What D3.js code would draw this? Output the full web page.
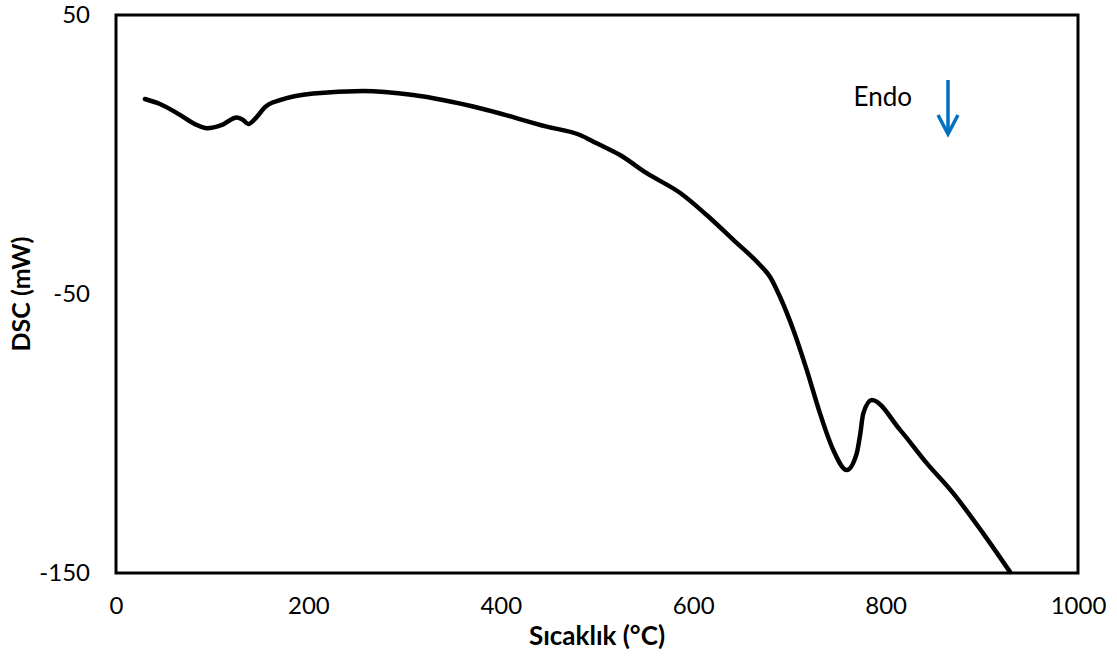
<!DOCTYPE html>
<html>
<head>
<meta charset="utf-8">
<script src="https://cdn.jsdelivr.net/npm/d3@7"></script>
<style>
  body { margin: 0; background: #fff; }
  text { font-family: Lato, "Noto Sans", sans-serif; fill: #000; }
</style>
</head>
<body>
<div id="chart"></div>
<script>
// readings of the DSC curve
var temperature = [30.1, 45.7, 66.5, 82.1, 94.6, 110.2, 125.5, 132, 137.5, 145.5, 154.9, 170.5, 205.1, 257.1, 309.0,
    378.4, 447.7, 482.3, 499.7, 523.9, 551.7, 586.9, 614.0, 641.7, 669.4, 679.8, 690.2, 704.1, 718.0, 731.8,
    745.6, 759.6, 770.0, 773.5, 776.8, 785.6, 815.0, 842.7, 870.0, 901.2, 929.3];
var dsc = [19.9, 18.1, 14.2, 10.9, 9.4, 10.6, 13.3, 12.4, 10.9, 13.1, 17.0, 19.5, 21.9, 22.8, 21.3,
    16.6, 10.0, 7.0, 4.0, -0.2, -6.7, -13.9, -21.7, -30.6, -39.6, -43.8, -51.0, -62.9, -77.2, -92.8,
    -105.9, -113.1, -107.1, -100.5, -92.8, -88.0, -98.7, -110.6, -121.3, -135.7, -149.6];
var xTicks = [0, 200, 400, 600, 800, 1000];
var yTicks = [50, -50, -150];

var width = 1117, height = 657;
var margin = {left: 116, top: 15, right: 39, bottom: 84};
var tickFont = 24;

var svg = d3.select("#chart").append("svg")
    .attr("width", width)
    .attr("height", height);

var x = d3.scaleLinear().domain([0, 1000]).range([margin.left, width - margin.right]);
var y = d3.scaleLinear().domain([-150, 50]).range([height - margin.bottom, margin.top]);

//axes without tick marks, labels only
svg.append("g")
    .attr("transform", "translate(0," + (height - margin.bottom) + ")")
    .call(d3.axisBottom(x).tickValues(xTicks).tickSize(0).tickPadding(24).tickFormat(d => String(d)))
    .call(g => g.select(".domain").remove())
    .selectAll("text")
    .attr("font-size", tickFont)
    .style("font-family", "Lato, 'Noto Sans', sans-serif");

svg.append("g")
    .attr("transform", "translate(" + margin.left + ",0)")
    .call(d3.axisLeft(y).tickValues(yTicks).tickSize(0).tickPadding(26).tickFormat(d => String(d)))
    .call(g => g.select(".domain").remove())
    .selectAll("text")
    .attr("font-size", tickFont)
    .style("font-family", "Lato, 'Noto Sans', sans-serif");

//frame of the plot area
svg.append("rect")
    .attr("x", x(0))
    .attr("y", y(50))
    .attr("width", x(1000) - x(0))
    .attr("height", y(-150) - y(50))
    .attr("fill", "none")
    .attr("stroke", "#000")
    .attr("stroke-width", 3);

var line = d3.line()
    .x(function (d, i) { return x(temperature[i]); })
    .y(function (d, i) { return y(dsc[i]); })
    .curve(d3.curveMonotoneX);

svg.append("path")
    .attr("d", line(dsc))
    .attr("fill", "none")
    .attr("stroke", "#000")
    .attr("stroke-width", 4.5)
    .attr("stroke-linecap", "round")
    .attr("stroke-linejoin", "round");

//axis titles
svg.append("text")
    .attr("x", x(500))
    .attr("y", 645)
    .attr("text-anchor", "middle")
    .attr("font-size", 26)
    .attr("font-weight", "bold")
    .text("Sıcaklık (°C)");

svg.append("text")
    .attr("transform", "translate(30," + y(-50) + ") rotate(-90)")
    .attr("text-anchor", "middle")
    .attr("font-size", 25)
    .attr("font-weight", "bold")
    .text("DSC (mW)");

//Endo annotation
svg.append("text")
    .attr("x", 912)
    .attr("y", 106)
    .attr("text-anchor", "end")
    .attr("font-size", 26)
    .text("Endo");

svg.append("line")
    .attr("x1", 948).attr("y1", 80)
    .attr("x2", 948).attr("y2", 133)
    .attr("stroke", "#0070C0")
    .attr("stroke-width", 3.5);
svg.append("path")
    .attr("d", "M938,115 L948,134 L958,115")
    .attr("fill", "none")
    .attr("stroke", "#0070C0")
    .attr("stroke-width", 3.5)
    .attr("stroke-linejoin", "miter");
</script>
</body>
</html>
